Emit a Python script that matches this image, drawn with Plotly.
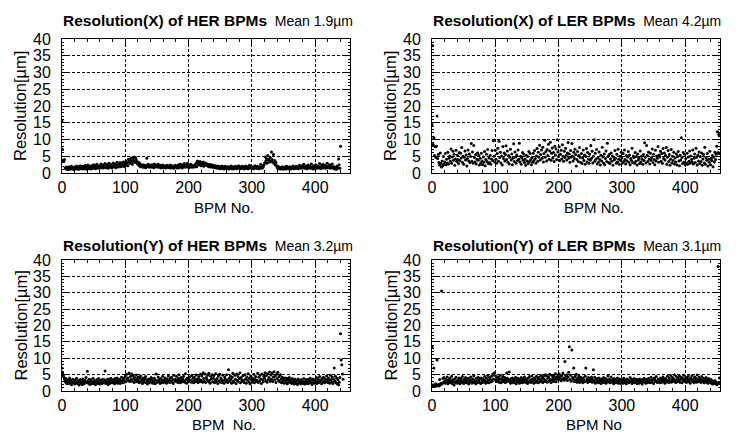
import plotly.graph_objects as go
from plotly.subplots import make_subplots

# resolution values, one per BPM (index = BPM No.)
her_x = [
    15.5, 7.0, 3.8, 3.4, 4.0, 1.6, 1.2, 1.8, 1.4, 1.0, 1.5, 1.9, 1.3, 1.1, 1.7, 2.0, 1.4, 1.2, 1.6, 1.0,
    1.8, 1.3, 1.5, 2.1, 1.2, 1.6, 1.9, 1.1, 1.4, 2.2, 1.7, 1.3, 1.5, 2.0, 1.2, 1.8, 1.4, 2.3, 1.6, 1.1,
    1.9, 2.4, 1.5, 1.3, 2.0, 1.7, 1.2, 2.2, 1.8, 1.4, 2.5, 1.6, 1.9, 1.3, 2.1, 2.6, 1.5, 1.8, 2.0, 1.4,
    2.3, 1.7, 2.7, 1.6, 2.0, 1.5, 2.4, 1.9, 2.8, 1.6, 2.2, 1.8, 2.5, 1.4, 2.9, 2.0, 1.7, 2.6, 2.1, 1.5,
    2.4, 3.0, 1.9, 2.2, 2.7, 1.6, 2.3, 3.2, 2.0, 1.8, 2.6, 2.2, 3.1, 1.9, 2.5, 2.8, 2.1, 3.3, 2.4, 1.9,
    2.9, 3.6, 2.4, 3.1, 2.2, 4.1, 3.4, 2.8, 3.8, 4.5, 3.2, 2.6, 4.3, 3.7, 4.8, 3.1, 4.6, 4.0, 3.5, 2.9,
    2.6, 3.2, 2.2, 2.8, 1.9, 2.4, 2.1, 1.8, 2.5, 1.7, 2.0, 2.3, 1.6, 2.2, 4.4, 1.9, 2.6, 1.8, 2.1, 2.4,
    1.7, 2.0, 2.5, 1.8, 2.3, 1.6, 2.7, 2.1, 1.9, 2.4, 1.8, 2.2, 2.6, 1.7, 2.0, 2.3, 1.5, 2.1, 1.9, 2.4,
    1.6, 2.0, 1.8, 2.2, 1.5, 1.9, 2.3, 1.7, 2.1, 1.6, 1.9, 2.4, 1.5, 1.8, 2.2, 1.6, 2.0, 1.4, 1.9, 2.3,
    1.7, 2.1, 1.5, 1.8, 2.5, 1.6, 2.0, 2.7, 1.8, 2.2, 1.5, 2.4, 1.9, 2.8, 2.1, 1.7, 2.5, 2.0, 2.9, 1.8,
    2.3, 1.6, 2.1, 2.6, 1.9, 2.4, 1.7, 2.2, 2.0, 1.8, 2.5, 2.1, 3.0, 1.9, 3.6, 2.7, 3.2, 2.4, 3.4, 2.8,
    2.2, 3.1, 2.6, 3.3, 2.0, 2.9, 2.5, 3.0, 2.3, 2.7, 2.1, 2.4, 1.9, 2.6, 2.2, 1.8, 2.5, 2.0, 1.7, 2.3,
    1.9, 1.6, 2.2, 1.8, 1.5, 2.1, 1.7, 1.4, 2.0, 1.6, 1.3, 1.9, 1.5, 2.1, 1.4, 1.8, 1.2, 1.6, 2.0, 1.5,
    1.3, 1.7, 1.9, 1.4, 1.2, 1.8, 1.6, 2.1, 1.3, 1.5, 1.9, 1.2, 1.7, 1.4, 2.0, 1.6, 1.3, 1.8, 1.5, 2.2,
    1.4, 1.7, 1.9, 1.3, 1.6, 2.0, 1.5, 1.8, 1.2, 1.7, 2.1, 1.4, 1.6, 1.9, 1.3, 1.8, 2.3, 1.5, 1.7, 2.0,
    1.4, 1.6, 1.9, 1.3, 1.7, 2.2, 1.5, 1.8, 1.4, 2.0, 1.6, 1.3, 1.9, 1.5, 2.6, 1.7, 1.4, 2.1, 1.8, 2.4,
    3.0, 4.8, 3.6, 4.3, 2.9, 5.2, 3.8, 4.1, 3.3, 4.6, 3.5, 6.3, 4.0, 3.2, 5.5, 2.8, 3.7, 2.4, 3.1, 2.2,
    1.6, 2.0, 1.3, 1.8, 1.5, 1.2, 1.7, 1.4, 1.9, 1.1, 1.6, 1.3, 1.8, 1.5, 1.2, 2.0, 1.4, 1.7, 1.3, 1.6,
    1.9, 1.4, 1.2, 1.7, 1.5, 2.1, 1.3, 1.8, 1.6, 1.4, 2.0, 1.5, 1.7, 1.3, 1.9, 2.3, 1.6, 1.4, 1.8, 2.2,
    1.5, 1.7, 2.6, 1.4, 1.9, 1.6, 2.1, 1.3, 1.8, 2.4, 1.5, 1.7, 2.0, 1.4, 2.7, 1.6, 1.9, 1.2, 2.2, 1.5,
    1.8, 2.5, 1.4, 1.7, 2.1, 1.5, 1.9, 2.8, 1.6, 1.3, 2.2, 1.8, 2.6, 1.5, 2.0, 1.7, 2.4, 1.4, 1.9, 2.9,
    1.6, 2.1, 1.8, 2.5, 1.4, 2.0, 1.7, 2.7, 1.5, 1.9, 1.3, 1.8, 1.2, 1.6, 1.1, 2.1, 1.5, 4.2, 2.5, 1.4,
    8.0,
]

ler_x = [
    14.5, 38.0, 8.5, 10.5, 5.2, 7.8, 4.6, 8.0, 17.0, 4.3, 5.5, 3.1, 2.4, 6.0, 2.8, 1.8, 3.6, 2.2, 4.9, 2.6,
    3.3, 5.8, 2.5, 4.1, 3.0, 6.2, 2.7, 4.4, 5.1, 3.5, 7.2, 2.9, 4.8, 6.5, 3.8, 5.6, 2.3, 4.2, 6.8, 3.4,
    5.3, 4.0, 2.8, 6.1, 3.7, 5.9, 4.5, 7.6, 3.2, 5.0, 2.6, 4.7, 6.6, 3.9, 5.4, 2.1, 4.3, 6.9, 3.6, 5.7,
    3.1, 4.9, 8.8, 3.5, 6.3, 2.9, 8.2, 4.6, 3.3, 5.5, 2.7, 4.1, 6.0, 3.8, 5.2, 2.4, 4.4, 3.0, 5.9, 3.6,
    2.5, 4.8, 3.2, 6.4, 2.2, 4.0, 5.6, 3.4, 7.0, 2.8, 4.5, 3.1, 5.3, 2.6, 4.2, 6.7, 3.7, 9.6, 5.0, 3.3,
    6.8, 4.1, 2.9, 5.8, 7.4, 3.5, 9.5, 4.6, 6.2, 3.0, 5.1, 2.4, 7.9, 4.3, 6.0, 3.6, 5.5, 8.1, 4.0, 6.6,
    3.2, 5.2, 2.7, 4.7, 7.1, 3.9, 5.7, 2.5, 4.4, 8.7, 3.4, 6.3, 4.8, 2.9, 5.4, 3.7, 6.9, 4.1, 8.9, 3.3,
    5.0, 2.6, 4.5, 6.1, 3.8, 5.6, 3.1, 4.2, 2.3, 5.3, 3.6, 4.9, 2.8, 6.4, 3.4, 5.8, 4.0, 2.5, 4.6, 3.2,
    5.9, 3.7, 6.7, 4.3, 2.9, 5.1, 7.3, 3.5, 6.2, 4.8, 8.3, 3.9, 5.5, 6.9, 4.4, 7.7, 3.3, 5.8, 9.8, 4.7,
    6.4, 3.6, 7.0, 5.2, 8.6, 4.1, 6.6, 9.2, 3.8, 5.9, 7.5, 4.5, 6.1, 3.4, 8.0, 5.4, 7.2, 4.0, 9.9, 6.3,
    4.9, 7.8, 3.7, 5.6, 6.8, 4.2, 8.4, 5.0, 3.5, 6.5, 4.6, 7.4, 5.3, 3.9, 6.0, 9.1, 4.4, 5.7, 3.2, 6.7,
    4.8, 8.8, 5.1, 3.6, 6.2, 4.3, 7.1, 5.5, 2.1, 4.0, 6.4, 3.4, 5.2, 7.6, 4.7, 3.1, 5.8, 2.8, 4.5, 6.9,
    3.7, 5.4, 2.6, 4.9, 7.3, 3.3, 6.1, 4.2, 2.9, 5.6, 3.8, 8.2, 4.4, 6.5, 3.0, 5.0, 9.9, 3.5, 5.9, 4.1,
    7.0, 2.7, 4.6, 3.2, 6.3, 4.0, 2.4, 5.3, 3.6, 7.7, 4.8, 3.0, 5.7, 2.5, 4.3, 6.6, 3.4, 8.9, 4.9, 3.1,
    5.5, 2.8, 4.2, 6.0, 3.5, 5.1, 2.3, 4.7, 3.9, 6.7, 4.4, 2.9, 5.6, 3.3, 7.1, 4.1, 2.6, 5.0, 3.7, 6.2,
    4.5, 3.0, 5.8, 3.4, 6.9, 4.0, 2.7, 5.2, 3.6, 4.8, 6.4, 3.2, 5.4, 2.5, 4.3, 3.8, 7.4, 3.1, 5.1, 4.6,
    2.9, 6.1, 3.5, 4.9, 2.4, 5.7, 3.9, 4.4, 2.8, 6.6, 3.3, 5.0, 4.1, 2.6, 5.5, 3.7, 9.0, 4.7, 3.0, 8.2,
    5.3, 3.4, 6.3, 4.2, 2.7, 5.9, 3.8, 4.6, 7.2, 3.1, 5.6, 4.0, 2.5, 6.8, 3.6, 5.1, 4.4, 7.9, 3.2, 5.4,
    4.8, 6.5, 3.5, 5.8, 2.9, 7.3, 4.3, 6.0, 3.9, 5.2, 7.6, 2.6, 4.7, 6.7, 3.4, 5.5, 2.3, 4.1, 7.0, 3.0,
    5.0, 3.7, 6.2, 2.7, 4.5, 3.3, 5.7, 2.4, 4.9, 6.4, 3.6, 2.2, 5.3, 3.9, 10.5, 4.6, 2.8, 6.1, 3.2, 5.6,
    2.5, 4.3, 3.0, 5.9, 2.6, 4.8, 3.5, 6.6, 2.9, 5.1, 4.0, 3.3, 6.9, 2.7, 4.4, 5.7, 3.1, 7.4, 4.7, 2.4,
    5.4, 3.6, 6.3, 2.8, 4.9, 3.4, 6.0, 2.3, 4.2, 5.5, 3.0, 7.7, 2.6, 4.6, 3.8, 5.8, 2.1, 4.1, 3.2, 6.5,
    2.5, 4.4, 3.7, 5.2, 1.9, 4.8, 3.3, 6.2, 4.0, 5.6, 8.0, 12.3, 6.1, 11.5, 5.8,
]

her_y = [
    7.0, 5.5, 4.8, 4.2, 3.6, 2.9, 3.8, 2.4, 3.1, 2.2, 3.5, 2.7, 4.0, 2.3, 3.3, 1.9, 2.8, 3.6, 2.5, 3.0,
    2.1, 3.4, 2.6, 3.9, 2.3, 2.9, 3.2, 1.8, 2.7, 3.5, 2.4, 3.0, 2.0, 3.7, 2.6, 2.2, 3.3, 2.8, 4.1, 2.5,
    6.0, 3.1, 2.4, 3.6, 2.0, 2.9, 3.4, 2.2, 2.7, 3.9, 2.3, 3.2, 2.6, 1.9, 3.0, 3.5, 2.4, 2.8, 3.8, 2.1,
    3.3, 2.7, 3.0, 2.2, 3.6, 2.5, 2.9, 3.4, 6.1, 2.3, 3.1, 2.6, 3.7, 2.0, 2.8, 3.3, 2.4, 3.9, 2.7, 3.2,
    2.5, 3.5, 2.9, 2.2, 3.8, 2.6, 3.1, 4.0, 2.4, 3.3, 2.8, 3.6, 2.3, 3.0, 4.2, 2.7, 3.4, 2.5, 3.9, 3.1,
    4.5, 2.8, 5.1, 3.6, 4.0, 3.2, 5.5, 2.9, 4.4, 3.5, 5.2, 3.0, 4.7, 3.8, 2.6, 4.1, 3.3, 4.9, 2.8, 3.7,
    4.3, 3.1, 2.5, 3.9, 4.6, 2.9, 3.5, 2.3, 4.0, 3.2, 2.7, 3.8, 4.4, 2.6, 3.4, 2.1, 3.0, 3.7, 2.5, 3.3,
    2.8, 4.1, 3.5, 2.4, 3.0, 2.7, 3.9, 2.2, 3.3, 5.2, 2.6, 3.1, 4.3, 2.9, 3.6, 2.3, 3.8, 2.7, 3.2, 4.5,
    2.5, 3.4, 2.8, 4.0, 3.1, 2.4, 3.7, 2.9, 4.6, 3.3, 2.6, 3.9, 3.0, 4.2, 2.7, 3.5, 2.3, 4.8, 3.2, 3.6,
    2.9, 4.4, 3.3, 2.6, 3.8, 5.0, 3.1, 2.5, 4.1, 3.4, 2.8, 3.7, 4.5, 3.0, 2.7, 5.3, 3.5, 2.4, 4.0, 3.2,
    3.6, 2.9, 4.3, 3.3, 2.7, 4.7, 3.0, 3.9, 2.5, 4.2, 3.4, 2.8, 4.9, 3.1, 3.7, 2.6, 4.4, 3.5, 2.9, 5.1,
    3.3, 4.6, 2.7, 5.6, 3.8, 3.0, 5.2, 2.6, 4.1, 3.5, 4.8, 2.9, 5.4, 3.2, 2.4, 4.5, 3.7, 5.0, 2.8, 3.9,
    4.7, 2.5, 3.4, 5.3, 2.9, 3.8, 2.3, 4.6, 3.1, 5.1, 2.7, 4.0, 3.5, 2.6, 4.9, 3.2, 2.4, 4.3, 3.7, 2.8,
    5.0, 3.3, 2.6, 6.5, 3.9, 2.9, 4.6, 3.5, 2.4, 4.2, 5.4, 3.0, 2.7, 4.8, 3.6, 2.3, 5.2, 3.2, 4.4, 2.8,
    3.8, 5.6, 2.5, 4.1, 3.4, 2.9, 4.7, 3.1, 2.6, 5.0, 3.7, 2.4, 4.3, 3.3, 5.3, 2.8, 3.9, 2.2, 4.6, 3.5,
    2.7, 4.0, 3.2, 5.1, 2.5, 3.6, 4.4, 2.9, 3.3, 5.4, 2.6, 4.2, 3.0, 4.8, 3.7, 2.3, 5.2, 3.4, 2.8, 4.5,
    3.9, 5.6, 3.1, 4.7, 2.7, 5.3, 3.5, 4.1, 5.8, 3.0, 4.9, 3.6, 5.5, 2.9, 4.3, 5.9, 3.4, 4.6, 2.6, 5.1,
    3.8, 5.7, 3.2, 4.4, 2.8, 5.0, 3.6, 2.5, 4.2, 3.1, 3.7, 2.4, 4.0, 3.3, 2.7, 3.9, 2.2, 3.5, 2.9, 4.1,
    2.6, 3.4, 3.0, 2.3, 3.8, 2.7, 3.2, 2.1, 3.6, 2.9, 2.4, 3.3, 2.0, 3.7, 2.8, 2.5, 3.1, 2.2, 3.5, 2.6,
    3.0, 2.3, 3.8, 2.7, 2.1, 3.4, 2.9, 2.4, 3.6, 2.2, 3.1, 2.8, 3.9, 2.5, 3.3, 2.0, 3.7, 2.6, 3.2, 2.4,
    3.5, 2.8, 4.1, 2.3, 3.0, 3.6, 2.6, 4.4, 2.9, 3.3, 2.2, 3.8, 2.7, 4.2, 3.1, 2.5, 3.7, 2.8, 4.6, 3.4,
    2.6, 4.0, 3.2, 2.4, 4.8, 3.5, 2.8, 4.3, 2.3, 3.6, 7.0, 3.0, 4.5, 2.5, 3.9, 2.1, 3.4, 1.9, 2.7, 4.1,
    17.5, 9.5, 8.0, 5.2, 3.6,
]

ler_y = [
    13.5, 1.8, 1.5, 7.0, 1.9, 1.4, 2.2, 1.6, 9.5, 1.7, 2.0, 1.5, 3.5, 1.8, 2.4, 30.5, 2.1, 3.8, 2.6, 4.1,
    3.0, 2.4, 3.6, 2.8, 4.3, 2.2, 3.3, 2.7, 3.9, 2.5, 3.1, 4.5, 2.3, 3.5, 2.9, 1.8, 3.7, 2.6, 4.2, 3.0,
    2.4, 3.4, 2.8, 4.0, 2.2, 3.2, 3.8, 2.6, 4.4, 3.0, 2.3, 3.6, 2.9, 4.1, 2.5, 3.3, 2.7, 3.9, 2.1, 3.5,
    2.8, 4.3, 3.1, 2.4, 3.7, 2.9, 4.6, 2.6, 3.3, 2.2, 3.9, 3.0, 2.5, 4.2, 3.4, 2.7, 3.8, 2.3, 4.0, 3.2,
    2.6, 3.6, 2.9, 4.4, 3.1, 2.4, 3.9, 2.7, 4.7, 3.3, 2.5, 4.1, 3.6, 2.8, 4.5, 3.0, 5.2, 3.7, 4.9, 5.6,
    3.4, 4.6, 2.9, 3.9, 3.2, 4.3, 2.7, 3.6, 4.8, 2.5, 3.8, 3.0, 4.4, 2.8, 3.5, 4.1, 2.6, 3.3, 5.5, 3.9,
    2.9, 3.6, 5.8, 3.1, 2.4, 3.8, 2.7, 4.0, 3.3, 2.5, 3.7, 2.9, 4.2, 2.2, 3.5, 2.8, 3.9, 3.0, 2.4, 3.6,
    2.7, 4.1, 3.2, 2.5, 3.8, 2.9, 4.3, 3.4, 2.6, 3.7, 3.0, 2.3, 3.9, 2.8, 4.4, 3.1, 2.6, 3.5, 4.6, 2.9,
    3.7, 2.4, 4.0, 3.3, 2.7, 4.5, 3.0, 3.8, 2.5, 4.2, 3.4, 2.8, 4.7, 3.1, 3.9, 2.6, 4.4, 3.6, 2.9, 5.0,
    3.2, 4.6, 2.7, 3.9, 4.3, 3.0, 5.1, 3.5, 2.6, 4.8, 3.3, 4.1, 2.9, 4.5, 3.6, 5.3, 2.8, 4.2, 3.7, 4.9,
    3.4, 5.2, 3.9, 4.4, 3.1, 4.7, 3.6, 5.5, 4.0, 3.3, 9.0, 4.6, 3.8, 5.0, 3.2, 4.3, 5.7, 13.5, 3.5, 4.8,
    3.0, 12.5, 4.1, 3.7, 7.0, 2.9, 4.4, 3.4, 5.1, 2.7, 3.9, 3.2, 4.6, 2.6, 3.6, 4.2, 3.0, 3.8, 2.5, 4.0,
    3.3, 2.8, 4.5, 7.0, 3.1, 3.7, 2.6, 4.1, 3.4, 2.9, 3.9, 3.2, 4.3, 2.7, 3.5, 6.5, 3.0, 4.2, 2.4, 3.6,
    2.8, 3.8, 3.1, 2.5, 4.0, 2.9, 3.4, 2.3, 3.7, 3.0, 2.6, 4.1, 3.3, 2.7, 3.9, 2.4, 3.5, 3.0, 4.6, 2.8,
    3.6, 2.5, 3.2, 4.3, 2.7, 3.5, 2.9, 2.2, 3.8, 3.1, 2.6, 3.4, 2.8, 4.0, 2.4, 3.3, 2.9, 3.7, 2.3, 3.0,
    2.7, 3.5, 2.4, 3.9, 3.1, 2.6, 3.3, 2.2, 3.7, 2.9, 3.4, 2.5, 3.0, 4.1, 2.8, 3.6, 2.3, 3.2, 2.7, 3.8,
    2.5, 3.1, 2.9, 3.6, 2.2, 3.4, 2.8, 2.4, 3.7, 3.0, 2.6, 3.3, 2.1, 3.5, 2.9, 3.9, 2.7, 3.2, 2.4, 3.6,
    3.0, 2.6, 3.8, 2.8, 3.3, 2.5, 4.2, 3.1, 2.7, 3.6, 2.3, 3.9, 3.4, 2.9, 4.4, 3.0, 2.6, 3.7, 2.8, 3.3,
    2.5, 4.0, 3.2, 2.7, 3.6, 4.3, 2.9, 3.5, 2.4, 3.8, 3.1, 2.8, 4.5, 3.3, 2.6, 3.9, 3.0, 4.7, 2.7, 3.4,
    4.1, 2.9, 3.7, 5.0, 3.2, 2.6, 4.4, 3.5, 2.8, 3.9, 3.1, 4.6, 2.7, 3.6, 4.2, 2.5, 3.8, 3.3, 4.8, 2.9,
    3.5, 4.1, 2.6, 3.9, 3.2, 4.5, 2.8, 3.6, 2.4, 4.0, 3.3, 4.7, 2.9, 3.7, 2.5, 4.3, 3.1, 3.8, 2.7, 4.9,
    3.4, 2.8, 4.2, 3.0, 3.7, 2.6, 4.4, 3.2, 2.9, 3.9, 2.5, 3.6, 3.0, 4.1, 2.7, 3.3, 2.4, 3.8, 2.9, 3.1,
    2.6, 3.5, 2.3, 3.0, 2.1, 2.8, 2.5, 3.2, 2.2, 2.7, 1.9, 2.4, 38.0, 2.6, 4.0,
]

panels = [
    (her_x, "Resolution(X) of HER BPMs", "Mean 1.9µm", "BPM No."),
    (ler_x, "Resolution(X) of LER BPMs", "Mean 4.2µm", "BPM No."),
    (her_y, "Resolution(Y) of HER BPMs", "Mean 3.2µm", "BPM  No."),
    (ler_y, "Resolution(Y) of LER BPMs", "Mean 3.1µm", "BPM No"),
]

FONT = "Liberation Sans, Arial, sans-serif"
W, H = 737, 434
# plot areas in pixels: (left, right), (top, bottom)
xpix = [(62, 350), (432, 720)]
ypix = [(39, 173), (260, 391)]
title_y = [20, 245]
xlab_y = [207, 424]

fig = make_subplots(rows=2, cols=2)

for i, (vals, title, mean, xlab) in enumerate(panels):
    r, c = i // 2, i % 2
    fig.add_trace(go.Scatter(x=list(range(len(vals))), y=vals, mode="markers",
                             marker=dict(color="black", size=3), showlegend=False),
                  row=r + 1, col=c + 1)
    x0, x1 = xpix[c][0] / W, xpix[c][1] / W
    y0, y1 = 1 - ypix[r][1] / H, 1 - ypix[r][0] / H
    axis_common = dict(showline=True, linecolor="black", linewidth=1, mirror="allticks",
                       ticks="inside", ticklen=5, tickcolor="black", automargin=False,
                       showgrid=True, gridcolor="black", griddash="3px,2px", gridwidth=1,
                       zeroline=False, tickfont=dict(family=FONT, size=16, color="black"))
    fig.update_xaxes(domain=[x0, x1], range=[0, 455], tickvals=[0, 100, 200, 300, 400],
                     ticklabelstandoff=0,
                     minor=dict(dtick=20, ticks="inside", ticklen=3, tickcolor="black", showgrid=False),
                     row=r + 1, col=c + 1, **axis_common)
    fig.update_yaxes(domain=[y0, y1], range=[0, 40], dtick=5, ticklabelstandoff=7,
                     minor=dict(dtick=1, ticks="inside", ticklen=2, tickcolor="black", showgrid=False),
                     row=r + 1, col=c + 1, **axis_common)

    fig.add_annotation(text="<span style='font-size:15.5px'><b>" + title + "</b></span>  " + mean,
                       xref="paper", yref="paper", x=x0 - 0.002, y=1 - title_y[r] / H,
                       xanchor="left", yanchor="middle", showarrow=False,
                       font=dict(family=FONT, size=14, color="black"))
    fig.add_annotation(text=xlab, xref="paper", yref="paper",
                       x=(x0 + x1) / 2 + 0.025, y=1 - xlab_y[r] / H, xanchor="center", yanchor="middle",
                       showarrow=False, font=dict(family=FONT, size=15, color="black"))
    fig.add_annotation(text="Resolution[µm]", xref="paper", yref="paper",
                       x=(xpix[c][0] - 42) / W, y=(y0 + y1) / 2, xanchor="center", yanchor="middle",
                       textangle=-90, showarrow=False, font=dict(family=FONT, size=16.5, color="black"))

fig.update_layout(width=W, height=H, margin=dict(l=0, r=0, t=0, b=0),
                  plot_bgcolor="white", paper_bgcolor="white")

# the page's default body margin would push the figure 8px off
fig.write_html("out.html", config={"displayModeBar": False},
               post_script="document.body.style.margin='0';")
